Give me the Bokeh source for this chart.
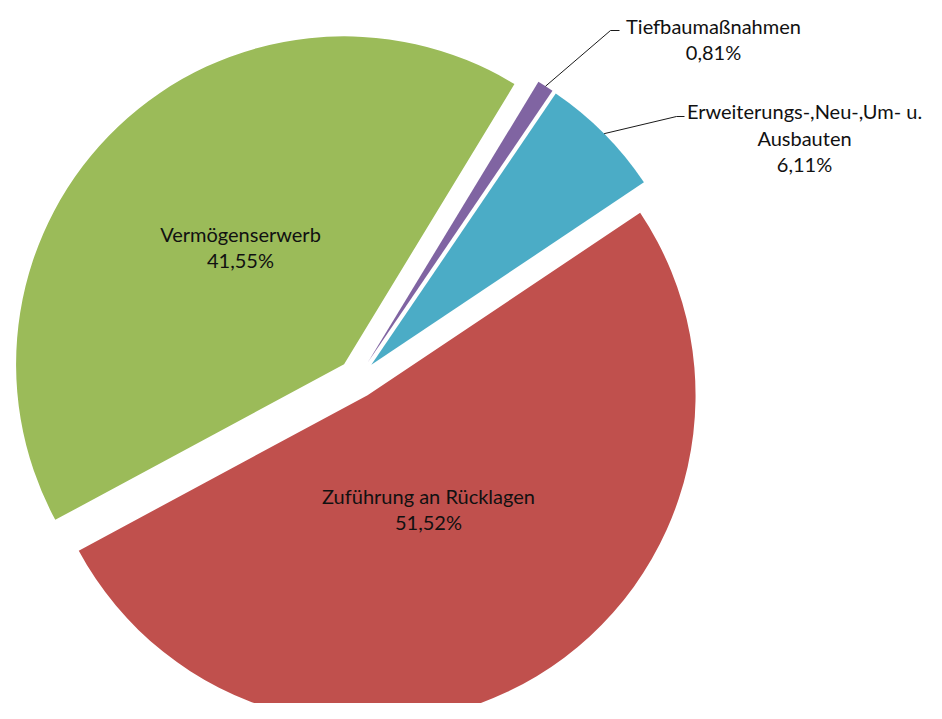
import math
from bokeh.plotting import figure
from bokeh.models import Range1d
from bokeh.core.properties import value
from bokeh.embed import file_html
from bokeh.resources import INLINE

# ---- data ----
categories = ["Zuführung an Rücklagen", "Erweiterungs-,Neu-,Um- u. Ausbauten",
              "Tiefbaumaßnahmen", "Vermögenserwerb"]
shares = [51.52, 6.11, 0.81, 41.55]
pct_labels = ["51,52%", "6,11%", "0,81%", "41,55%"]
label_lines = [["Zuführung an Rücklagen"],
               ["Erweiterungs-,Neu-,Um- u.", "Ausbauten"],
               ["Tiefbaumaßnahmen"],
               ["Vermögenserwerb"]]
colors = ["#C0504D", "#4BACC6", "#8064A2", "#9BBB59"]

# ---- layout (not data) ----
W, H = 926, 703
CX, CY = 357, 341          # pie centre
R = 328                    # radius
EXPLODE = 19.5             # explosion distance
START_DEG = 208.3          # start angle of first slice (anticlockwise)
FONT = "Lato"
FONT_SIZE = "20px"
LINE_H = 26.5
# label block centres, and leader elbows (None = inside label)
label_pos = [(428, 210.5), (804, 582), (713, 680.5), (240, 472.5)]
leader_elbow = [None, ((676, 603), (684, 603)), ((610, 689), (619, 689)), None]

p = figure(width=W, height=H, output_backend="svg", toolbar_location=None,
           x_range=Range1d(0, W), y_range=Range1d(719 - H, 719),
           min_border=0, min_border_left=0, min_border_right=0,
           min_border_top=0, min_border_bottom=0)
p.axis.visible = False
p.grid.visible = False
p.outline_line_color = None
p.background_fill_color = "white"
p.border_fill_color = "white"

total = sum(shares)
ang = math.radians(START_DEG)
for i, s in enumerate(shares):
    span = 2 * math.pi * s / total
    a0, a1 = ang, ang + span
    mid = (a0 + a1) / 2
    vx = CX + EXPLODE * math.cos(mid)
    vy = CY + EXPLODE * math.sin(mid)
    p.wedge(x=[vx], y=[vy], radius=R, start_angle=[a0], end_angle=[a1],
            fill_color=colors[i], line_color=None)
    if leader_elbow[i] is not None:
        ox = vx + R * math.cos(mid)
        oy = vy + R * math.sin(mid)
        (ex, ey), (hx, hy) = leader_elbow[i]
        p.line(x=[ox, ex, hx], y=[oy, ey, hy], line_color="#1a1a1a", line_width=1)
    ang = a1

for i in range(len(shares)):
    lines = label_lines[i] + [pct_labels[i]]
    n = len(lines)
    lx, ly = label_pos[i]
    ys = [ly + (n - 1) / 2 * LINE_H - k * LINE_H for k in range(n)]
    p.text(x=[lx] * n, y=ys, text=lines, text_align="center", text_baseline="middle",
           text_font=value(FONT), text_font_size=FONT_SIZE, text_color="#111111")

open("out.html", "w").write(file_html(p, INLINE))
